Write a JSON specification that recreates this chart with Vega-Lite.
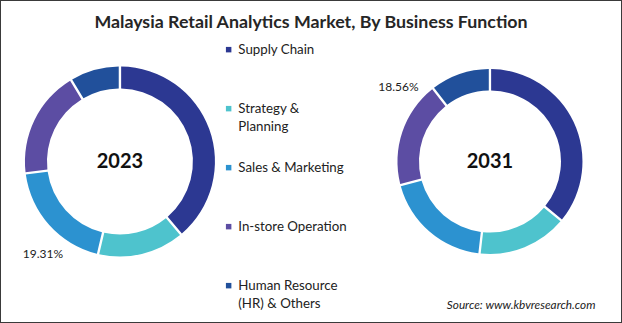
{
  "$schema": "https://vega.github.io/schema/vega-lite/v6.json",
  "width": 622,
  "height": 323,
  "autosize": {"type": "fit", "contains": "padding"},
  "padding": 0,
  "background": "white",
  "title": {
    "text": "Malaysia Retail Analytics Market, By Business Function",
    "offset": -32,
    "font": "Lato",
    "fontSize": 17.8,
    "fontWeight": "bold",
    "color": "#262626",
    "anchor": "middle",
    "frame": "group"
  },
  "data": {
    "values": [
      {"year": "2023", "function": "Supply Chain", "order": 1, "value": 38.9, "label": ""},
      {"year": "2023", "function": "Strategy & Planning", "order": 2, "value": 14.8, "label": ""},
      {"year": "2023", "function": "Sales & Marketing", "order": 3, "value": 19.31, "label": "19.31%"},
      {"year": "2023", "function": "In-store Operation", "order": 4, "value": 18.4, "label": ""},
      {"year": "2023", "function": "Human Resource (HR) & Others", "order": 5, "value": 8.59, "label": ""},
      {"year": "2031", "function": "Supply Chain", "order": 1, "value": 36.0, "label": ""},
      {"year": "2031", "function": "Strategy & Planning", "order": 2, "value": 15.8, "label": ""},
      {"year": "2031", "function": "Sales & Marketing", "order": 3, "value": 19.1, "label": ""},
      {"year": "2031", "function": "In-store Operation", "order": 4, "value": 18.56, "label": "18.56%"},
      {"year": "2031", "function": "Human Resource (HR) & Others", "order": 5, "value": 10.54, "label": ""}
    ]
  },
  "transform": [
    {"stack": "value", "groupby": ["year"], "sort": [{"field": "order", "order": "ascending"}], "offset": "normalize", "as": ["v0", "v1"]}
  ],
  "encoding": {
    "x": {
      "field": "year",
      "type": "nominal",
      "scale": {"type": "point", "domain": ["2023", "2031"], "padding": 0.3405, "align": 0.476},
      "axis": {
        "title": "Source: www.kbvresearch.com",
        "domain": false,
        "ticks": false,
        "labels": false,
        "grid": false,
        "titleFont": "Lato",
        "titleFontStyle": "italic",
        "titleFontWeight": "normal",
        "titleFontSize": 11.8,
        "titleColor": "#222222",
        "titleAnchor": "end",
        "titleAlign": "right",
        "titleBaseline": "middle",
        "titleX": 595,
        "titleY": -19
      }
    }
  },
  "layer": [
    {
      "transform": [{"filter": "datum.year == '2023'"}],
      "mark": {"type": "arc", "outerRadius": 95, "innerRadius": 73, "padAngle": 0.02},
      "encoding": {
        "theta": {"field": "v0", "type": "quantitative", "scale": {"domain": [0, 1]}},
        "theta2": {"field": "v1"},
        "color": {
          "field": "function",
          "type": "nominal",
          "scale": {
            "domain": ["Supply Chain", "Strategy & Planning", "Sales & Marketing", "In-store Operation", "Human Resource (HR) & Others"],
            "range": ["#2C3892", "#4EC3CD", "#2C92D0", "#5C4DA3", "#21509B"]
          },
          "legend": {
            "orient": "none",
            "legendX": 222,
            "legendY": 43,
            "direction": "vertical",
            "title": null,
            "symbolType": "square",
            "symbolSize": 30,
            "symbolStrokeWidth": 0,
            "symbolOpacity": 1,
            "labelFont": "Lato",
            "labelFontSize": 13.3,
            "labelColor": "#222222",
            "labelOffset": 3,
            "labelLimit": 300,
            "gridAlign": "all",
            "rowPadding": 27,
            "labelExpr": "datum.label == 'Strategy & Planning' ? ['Strategy &', 'Planning'] : datum.label == 'Human Resource (HR) & Others' ? ['Human Resource', '(HR) & Others'] : datum.label"
          }
        }
      }
    },
    {
      "transform": [{"filter": "datum.year == '2031'"}],
      "mark": {"type": "arc", "outerRadius": 92.5, "innerRadius": 71, "padAngle": 0.02},
      "encoding": {
        "theta": {"field": "v0", "type": "quantitative", "scale": {"domain": [0, 1]}},
        "theta2": {"field": "v1"},
        "color": {"field": "function", "type": "nominal"}
      }
    },
    {
      "transform": [{"filter": "datum.order == 1"}],
      "mark": {"type": "text", "font": "Lato", "fontSize": 20, "fontWeight": "bold", "color": "#111111", "align": "center", "baseline": "middle"},
      "encoding": {"text": {"field": "year"}}
    },
    {
      "transform": [{"filter": "datum.year == '2023' && datum.label != ''"}, {"calculate": "(datum.v0 + datum.v1) / 2", "as": "mid"}],
      "mark": {"type": "text", "font": "Lato", "fontSize": 12, "color": "#222222", "align": "center", "baseline": "middle", "radius": 121, "dx": 13, "dy": 12},
      "encoding": {
        "theta": {"field": "mid", "type": "quantitative", "scale": {"domain": [0, 1]}},
        "text": {"field": "label"}
      }
    },
    {
      "transform": [{"filter": "datum.year == '2031' && datum.label != ''"}, {"calculate": "(datum.v0 + datum.v1) / 2", "as": "mid"}],
      "mark": {"type": "text", "font": "Lato", "fontSize": 12, "color": "#222222", "align": "center", "baseline": "middle", "radius": 105, "dx": 8, "dy": -41},
      "encoding": {
        "theta": {"field": "mid", "type": "quantitative", "scale": {"domain": [0, 1]}},
        "text": {"field": "label"}
      }
    }
  ],
  "config": {
    "view": {"stroke": "#3a3a3a", "strokeWidth": 2},
    "style": {"guide-label": {"lineHeight": 18}}
  }
}
